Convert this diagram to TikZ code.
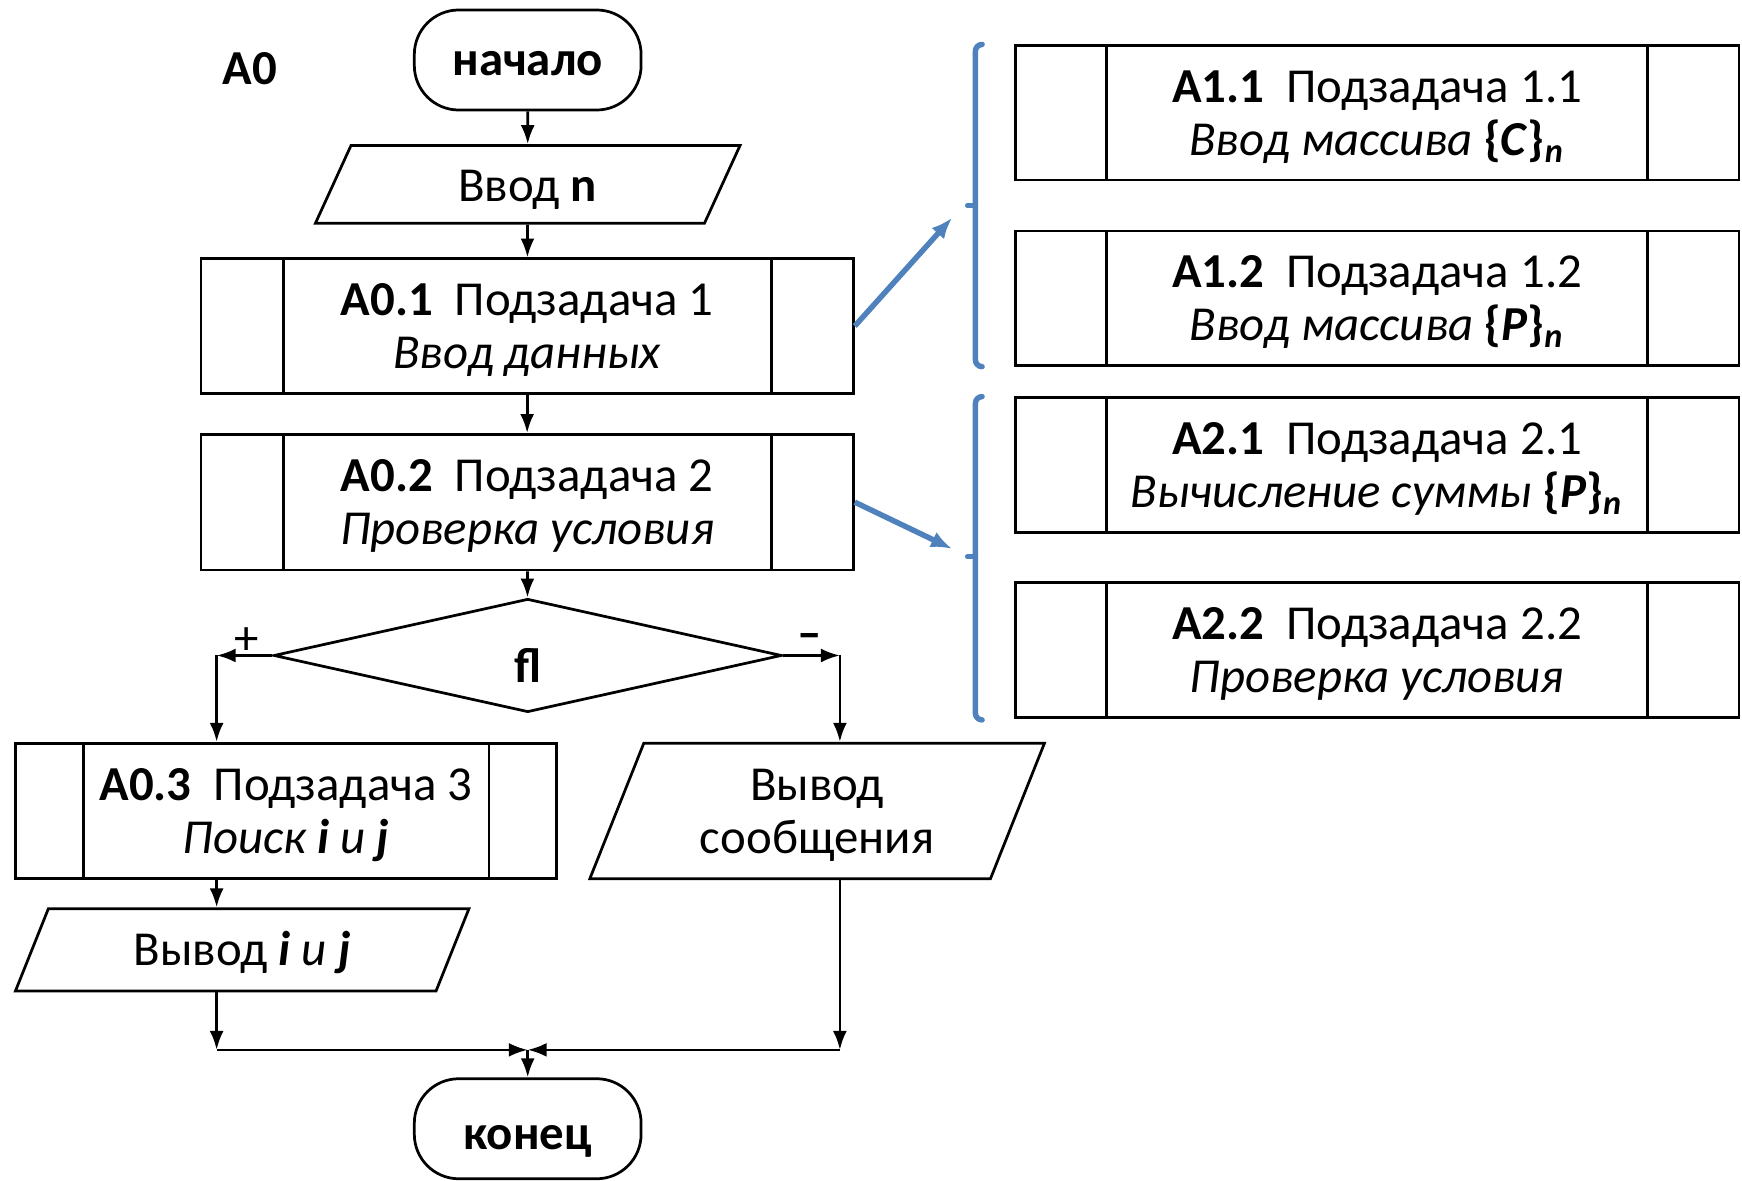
\documentclass[tikz,border=0pt]{standalone}
\usepackage{fontspec}
\setmainfont{Carlito}
\usepackage{tikz}
\usetikzlibrary{shapes}
\usetikzlibrary{shapes.geometric}
\usetikzlibrary{arrows.meta}
\usetikzlibrary{calc}

\definecolor{ablue}{RGB}{79,129,189}
\newcommand{\fsz}{\fontsize{12.5pt}{13.6pt}\selectfont}

\begin{document}
\begin{tikzpicture}[x=0.01cm, y=-0.01cm, line width=0.7pt,
    >={Latex[length=1.7mm, width=1.25mm]},
    every node/.style={font=\fsz, align=center, inner sep=0pt},
    term/.style={draw, rectangle, rounded corners=0.4cm, minimum width=2.04cm, minimum height=0.9cm, font=\fsz\bfseries, text height=8.1pt, text depth=0pt},
    io/.style={draw, trapezium, trapezium stretches body, text depth=0pt},
    subtask/.style={draw, rectangle, text depth=0pt, path picture={
      \draw ([xshift=#1]path picture bounding box.north west) -- ([xshift=#1]path picture bounding box.south west)
            ([xshift=-#1]path picture bounding box.north east) -- ([xshift=-#1]path picture bounding box.south east);}},
    cond/.style={draw, diamond, minimum width=4.57cm, minimum height=1.02cm, text height=13.6pt, text depth=0pt},
    blink/.style={ablue, line width=1.4pt, -{Latex[length=1.9mm, width=1.5mm]}},
    brace/.style={ablue, line width=1.4pt, line cap=round}]
    \useasboundingbox (0, 0) rectangle (1568, 1063);

    \node at (225, 62) (title) {\textbf{A0}};
    \node[term] at (475, 54) (start) {начало};
    \node[io, trapezium left angle=44, trapezium right angle=136, minimum width=3.82cm, minimum height=0.7cm, text height=8.8pt] at (475, 166) (in_n) {Ввод \textbf{n}};
    \node[subtask=0.74cm, minimum width=5.87cm, minimum height=1.21cm] at (474.5, 293.5) (a01) {\textbf{A0.1}\ \ Подзадача 1\\\textit{Ввод данных}};
    \node[subtask=0.74cm, minimum width=5.87cm, minimum height=1.22cm] at (474.5, 452) (a02) {\textbf{A0.2}\ \ Подзадача 2\\\textit{Проверка условия}};
    \node[cond] at (475, 590) (fl) {\textbf{fl}};
    \node at (222, 577) (plus) {+};
    \node at (729, 577) (minus) {\textbf{--}};
    \node[subtask=0.61cm, minimum width=4.87cm, minimum height=1.22cm] at (257.5, 730) (a03) {\textbf{A0.3}\ \ Подзадача 3\\\textit{Поиск \textbf{i} и \textbf{j}}};
    \node[io, trapezium left angle=57.4, trapezium right angle=122.6, minimum width=4.09cm, minimum height=1.22cm] at (735.5, 730) (out_msg) {Вывод\\сообщения};
    \node[io, trapezium left angle=43.5, trapezium right angle=136.5, minimum width=4.08cm, minimum height=0.74cm, text height=8pt] at (218, 855) (out_ij) {Вывод \textbf{\textit{i}} \textit{и} \textbf{\textit{j}}};
    \node[term, text height=10.4pt] at (475, 1016) (finish) {конец};

    \node[subtask=0.82cm, minimum width=6.51cm, minimum height=1.21cm] at (1239.5, 101.5) (a11) {\textbf{A1.1}\ \ Подзадача 1.1\\\textit{Ввод массива} \textbf{\{\textit{C}\}}\textsubscript{\textbf{\textit{n}}}};
    \node[subtask=0.82cm, minimum width=6.51cm, minimum height=1.21cm] at (1239.5, 268.5) (a12) {\textbf{A1.2}\ \ Подзадача 1.2\\\textit{Ввод массива} \textbf{\{\textit{P}\}}\textsubscript{\textbf{\textit{n}}}};
    \node[subtask=0.82cm, minimum width=6.51cm, minimum height=1.21cm] at (1239.5, 418.5) (a21) {\textbf{A2.1}\ \ Подзадача 2.1\\\textit{Вычисление суммы} \textbf{\{\textit{P}\}}\textsubscript{\textbf{\textit{n}}}};
    \node[subtask=0.82cm, minimum width=6.51cm, minimum height=1.21cm] at (1239.5, 585) (a22) {\textbf{A2.2}\ \ Подзадача 2.2\\\textit{Проверка условия}};

    \coordinate (yes) at (195, 590);
    \coordinate (no) at (756, 590);
    \coordinate (jl) at (195, 945);
    \coordinate (jr) at (756, 945);
    \coordinate (join) at (475, 945);
    \coordinate (b1) at (857, 196);
    \coordinate (b2) at (857, 494);

    \draw[->] (start) -- (in_n);
    \draw[->] (in_n) -- (a01);
    \draw[->] (a01) -- (a02);
    \draw[->] (a02) -- (fl);
    \draw[->] (fl.west) -- (yes);
    \draw[->] (yes) -- (yes |- a03.north);
    \draw[->] (fl.east) -- (no);
    \draw[->] (no) -- (no |- out_msg.north);
    \draw[->] (yes |- a03.south) -- (yes |- out_ij.north);
    \draw[->] (yes |- out_ij.south) -- (jl);
    \draw[->] (no |- out_msg.south) -- (jr);
    \draw[->] (jl) -- (join);
    \draw[->] (jr) -- (join);
    \draw[->] (join) -- (finish);

    \draw[brace] (884, 40) to[out=180, in=90] (878, 46) -- (878, 324) to[out=-90, in=180] (884, 330);
    \draw[brace] (878, 185) -- (871, 185);
    \draw[brace] (884, 357) to[out=180, in=90] (878, 363) -- (878, 642) to[out=-90, in=180] (884, 648);
    \draw[brace] (878, 501) -- (871, 501);
    \draw[blink] (a01.east) -- (b1);
    \draw[blink] (a02.east) -- (b2);
\end{tikzpicture}
\end{document}
